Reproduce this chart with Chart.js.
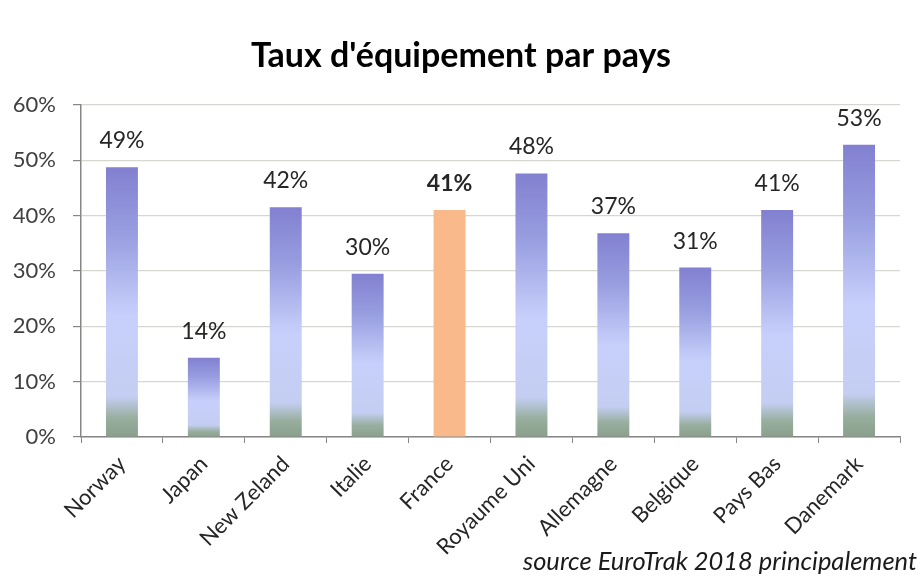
<!DOCTYPE html>
<html>
<head>
<meta charset="utf-8">
<script src="https://cdn.jsdelivr.net/npm/chart.js@4"></script>
<style>
  html, body { margin: 0; padding: 0; background: #fff; }
  #wrap { width: 922px; height: 576px; }
</style>
</head>
<body>
<div id="wrap"><canvas id="equipChart" width="922" height="576"></canvas></div>
<script>
const countries = ['Norway', 'Japan', 'New Zeland', 'Italie', 'France', 'Royaume Uni', 'Allemagne', 'Belgique', 'Pays Bas', 'Danemark'];
const rates = [48.7, 14.3, 41.5, 29.5, 41.0, 47.6, 36.8, 30.6, 41.0, 52.8];
const yTicks = [0, 10, 20, 30, 40, 50, 60];
const highlight = 'France';
const sourceText = 'source EuroTrak 2018 principalement';

const fontFamily = "Lato, 'Open Sans', sans-serif";
const textColor = '#404040';
const orange = '#fab98b';

// dégradé Excel : violet en haut, bleu clair au milieu, gris-vert en bas
function barGradient(context) {
    const chart = context.chart;
    if (!chart.chartArea || context.type !== 'data') return '#b0b8ee';
    if (countries[context.dataIndex] === highlight) return orange;
    const yScale = chart.scales.y;
    const top = yScale.getPixelForValue(context.parsed.y);
    const base = yScale.getPixelForValue(0);
    const g = chart.ctx.createLinearGradient(0, top, 0, base);
    g.addColorStop(0, '#8280d0');
    g.addColorStop(0.25, '#989ee0');
    g.addColorStop(0.55, '#c7d0fb');
    g.addColorStop(0.85, '#c4cef2');
    g.addColorStop(0.93, '#98ae9e');
    g.addColorStop(1, '#8aa08c');
    return g;
}

const labelsPlugin = {
    id: 'barLabels',
    afterDatasetsDraw(chart) {
        const ctx = chart.ctx;
        const meta = chart.getDatasetMeta(0);
        ctx.save();
        ctx.textAlign = 'center';
        ctx.textBaseline = 'alphabetic';
        ctx.fillStyle = '#262626';
        meta.data.forEach((bar, i) => {
            const bold = countries[i] === highlight;
            ctx.font = (bold ? 'bold ' : '') + '23px ' + fontFamily;
            ctx.fillText(Math.round(rates[i]) + '%', bar.x, bar.y - 19);
        });
        ctx.font = 'italic 25.5px ' + fontFamily;
        ctx.textAlign = 'right';
        ctx.fillStyle = '#1a1a1a';
        ctx.fillText(sourceText, 917, 570);
        ctx.restore();
    }
};

new Chart(document.getElementById('equipChart').getContext('2d'), {
    type: 'bar',
    data: {
        labels: countries,
        datasets: [{
            data: rates,
            backgroundColor: barGradient,
            borderWidth: 0,
            barPercentage: 0.39,
            categoryPercentage: 1
        }]
    },
    options: {
        responsive: false,
        animation: false,
        layout: { padding: { left: 0, right: 0, top: 0, bottom: 9 } },
        plugins: {
            legend: { display: false },
            tooltip: { enabled: false },
            title: {
                display: true,
                text: "Taux d'équipement par pays",
                color: '#000',
                font: { family: fontFamily, size: 34, weight: 'bold' },
                padding: { top: 36, bottom: 28 }
            }
        },
        scales: {
            y: {
                min: 0,
                max: 60,
                afterBuildTicks: (scale) => { scale.ticks = yTicks.map(v => ({ value: v })); },
                afterFit: (scale) => { scale.width = 81; },
                ticks: {
                    color: textColor,
                    padding: 17,
                    font: { family: fontFamily, size: 22 },
                    callback: (v) => v + '%'
                },
                border: { display: true, color: '#868686', width: 1.5 },
                grid: { color: '#d6d8cf', lineWidth: 1.2, tickLength: 8, tickColor: '#868686' }
            },
            // marge droite vide (le titre reste centré sur toute la largeur)
            yRight: {
                position: 'right',
                display: true,
                afterFit: (scale) => { scale.width = 22; },
                ticks: { display: false },
                border: { display: false },
                grid: { display: false }
            },
            x: {
                afterFit: (scale) => { scale.height = 130; },
                ticks: {
                    color: '#262626',
                    minRotation: 45,
                    maxRotation: 45,
                    padding: 8,
                    font: { family: fontFamily, size: 22 }
                },
                border: { display: true, color: '#868686', width: 1.5 },
                grid: { drawOnChartArea: false, offset: true, tickLength: 6, color: '#868686' }
            }
        }
    },
    plugins: [labelsPlugin]
});
</script>
</body>
</html>
